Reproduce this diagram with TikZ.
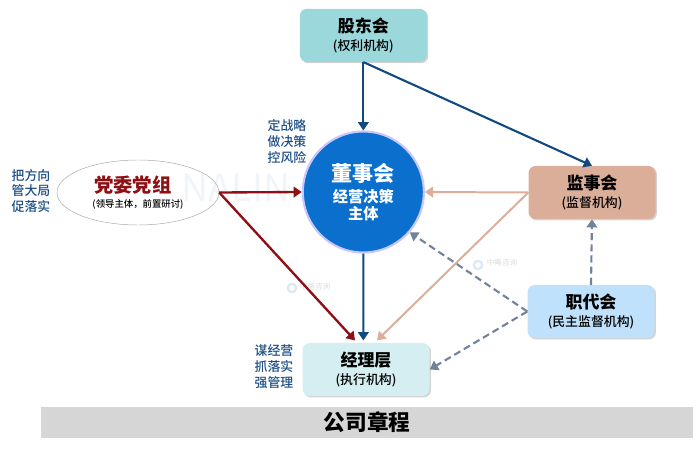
\documentclass[tikz,border=0pt]{standalone}
\usepackage{fontspec}
\setmainfont{Noto Sans CJK SC}
\newfontfamily\mediumfont{Noto Sans CJK SC Medium}
\usetikzlibrary{arrows.meta,shadows,shapes.geometric}
\definecolor{navy}{HTML}{124A80}
\definecolor{darkred}{HTML}{8E0F14}
\definecolor{salmon}{HTML}{DBAE9A}
\definecolor{slategray}{HTML}{71839B}
\definecolor{labelblue}{HTML}{1D4F86}
\definecolor{gudongfill}{HTML}{9BD8DB}
\definecolor{zhidaifill}{HTML}{BFE1FC}
\definecolor{jinglifill}{HTML}{D5EEF1}
\definecolor{dongshifill}{HTML}{0B6FCE}
\definecolor{markfaint}{HTML}{F1F4F8}
\definecolor{markring}{HTML}{DCE9F5}
\tikzset{
  organ/.style={draw=none, rectangle, rounded corners=6pt, minimum width=3.81cm, minimum height=1.59cm,
    align=center, inner sep=0pt, drop shadow={shadow xshift=1.2pt, shadow yshift=-1.2pt, opacity=0.35}},
  sidelabel/.style={text=labelblue, align=center, inner sep=0pt, font=\mediumfont\fontsize{11}{13.6}\selectfont},
  watermark/.style={text=black!14, inner sep=0pt, font=\fontsize{6.5}{7}\selectfont},
  logoring/.style={circle, draw=markring, line width=2pt, minimum size=0.25cm, inner sep=0pt},
  navyline/.style={-{Triangle[length=7pt,width=9pt]}, line width=1.8pt, draw=navy},
  redline/.style={-{Triangle[length=7pt,width=9pt]}, line width=2pt, draw=darkred},
  salmonline/.style={-{Triangle[length=7pt,width=9pt]}, line width=1.7pt, draw=salmon},
  grayline/.style={-{Triangle[length=7pt,width=9pt]}, line width=1.8pt, draw=slategray, dashed, dash pattern=on 6pt off 3.5pt},
}
\newcommand{\organname}[1]{{\fontsize{14.5}{17}\selectfont\bfseries #1}}
\newcommand{\organrole}[1]{{\mediumfont\fontsize{11}{13}\selectfont (#1)}}
\begin{document}
\begin{tikzpicture}
\useasboundingbox (0,0) rectangle (21,13.56);
\node[draw=none, fill=black!16, minimum width=19.56cm, minimum height=0.93cm, inner sep=0pt, font=\fontsize{18.5}{20}\selectfont\bfseries] (zhangcheng) at (11.01,0.885) {公司章程};

% watermarks
\node[text=markfaint, inner sep=0pt, font=\fontsize{32}{32}\selectfont] (nalin) at (7.08,7.92) {NALIN};
\node[logoring] (ringa) at (8.76,4.92) {};
\node[watermark] (logoa) at (9.45,4.95) {中略咨询};
\node[logoring] (ringb) at (14.34,5.61) {};
\node[watermark] (logob) at (15.06,5.67) {中略咨询};

% organs
\node[organ, fill=gudongfill] (gudong) at (10.9,12.5) {\organname{股东会}\\[3pt]\organrole{权利机构}};
\node[organ, fill=salmon] (jianshi) at (17.76,7.785) {\organname{监事会}\\[3pt]\organrole{监督机构}};
\node[organ, fill=zhidaifill] (zhidai) at (17.73,4.215) {\organname{职代会}\\[3pt]\organrole{民主监督机构}};
\node[organ, fill=jinglifill] (jingli) at (10.98,2.475) {\organname{经理层}\\[3pt]\organrole{执行机构}};
\node[draw=blue!22, line width=1.8pt, circle, fill=dongshifill, text=white, minimum size=3.63cm, inner sep=0pt, align=center] (dongshi) at (10.9,7.8)
  {{\fontsize{18}{22}\selectfont\bfseries 董事会}\\[4pt]{\fontsize{13}{18}\selectfont\bfseries 经营决策}\\[1pt]{\fontsize{13}{18}\selectfont\bfseries 主体}};
\node[draw=gray!70, ellipse, minimum width=4.86cm, minimum height=1.95cm, inner sep=0pt, align=center] (dangwei) at (4.14,7.785)
  {{\fontsize{16.5}{20}\selectfont\bfseries\color{darkred} 党委党组\hspace*{0.3cm}}\\[1pt]{\mediumfont\fontsize{8}{10}\selectfont (领导主体，前置研讨)}};

% side labels
\node[sidelabel] (bafangxiang) at (0.93,7.83) {把方向\\管大局\\促落实};
\node[sidelabel] (dingzhanlue) at (8.61,9.3) {定战略\\做决策\\控风险};
\node[sidelabel] (moujingying) at (8.22,2.55) {谋经营\\抓落实\\强管理};

\draw[navyline] (gudong.south) -- (dongshi.north);
\draw[navyline] (gudong.south) -- (jianshi.north);
\draw[navyline] (dongshi.south) -- ([xshift=-0.08cm,yshift=2pt]jingli.north);
\draw[redline] (dangwei.east) -- (dongshi.west);
\draw[redline] (dangwei.east) -- ([xshift=-0.33cm,yshift=2pt]jingli.north);
\draw[salmonline] (jianshi.west) -- (dongshi.east);
\draw[salmonline] (jianshi.west) -- ([xshift=0.33cm,yshift=2pt]jingli.north);
\draw[grayline] (zhidai.north) -- (jianshi.south);
\draw[grayline] (zhidai.west) -- (dongshi.-41);
\draw[grayline] (zhidai.west) -- (jingli.east);
\end{tikzpicture}
\end{document}
